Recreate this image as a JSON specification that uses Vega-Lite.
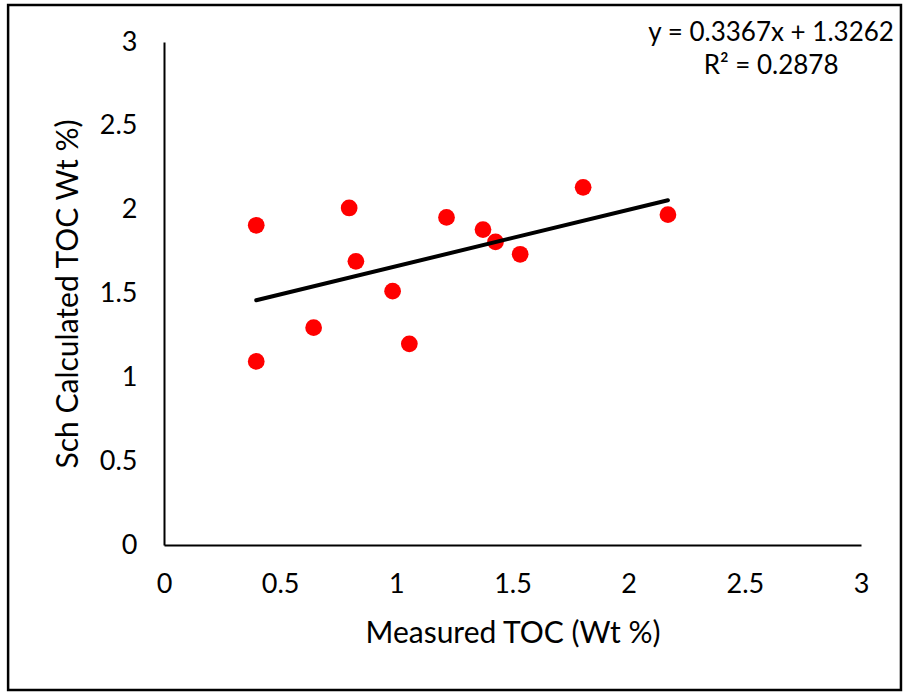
{
  "$schema": "https://vega.github.io/schema/vega-lite/v6.json",
  "autosize": {"type": "none"},
  "width": 697,
  "height": 503,
  "padding": {"left": 164, "top": 42, "right": 43, "bottom": 147},
  "background": "white",
  "config": {
    "view": {"stroke": null},
    "font": "Lato",
    "axis": {
      "grid": false,
      "ticks": false,
      "domainColor": "black",
      "domainWidth": 2,
      "labelColor": "black",
      "titleColor": "black",
      "labelFont": "Lato",
      "titleFont": "Lato",
      "labelFontSize": 27,
      "titleFontSize": 30,
      "labelFontWeight": "normal",
      "titleFontWeight": "normal",
      "format": ".1~f"
    }
  },
  "datasets": {
    "samples": [
      {"measured": 0.397, "calculated": 1.907},
      {"measured": 0.397, "calculated": 1.095},
      {"measured": 0.644, "calculated": 1.296},
      {"measured": 0.797, "calculated": 2.010},
      {"measured": 0.826, "calculated": 1.692},
      {"measured": 0.984, "calculated": 1.514},
      {"measured": 1.056, "calculated": 1.200},
      {"measured": 1.216, "calculated": 1.954},
      {"measured": 1.373, "calculated": 1.881},
      {"measured": 1.427, "calculated": 1.808},
      {"measured": 1.533, "calculated": 1.734},
      {"measured": 1.804, "calculated": 2.133},
      {"measured": 2.169, "calculated": 1.970}
    ],
    "trend": [
      {"measured": 0.397, "calculated": 1.4599},
      {"measured": 2.169, "calculated": 2.0565}
    ]
  },
  "layer": [
    {
      "data": {"values": [{}]},
      "mark": {"type": "rect", "fill": "transparent", "stroke": "black", "strokeWidth": 2.5, "clip": false},
      "encoding": {
        "x": {"datum": -0.671, "type": "quantitative", "scale": {"domain": [0, 3], "nice": false, "zero": false}},
        "x2": {"datum": 3.172},
        "y": {"datum": 3.221, "type": "quantitative", "scale": {"domain": [0, 3], "nice": false, "zero": false}},
        "y2": {"datum": -0.865}
      }
    },
    {
      "data": {"name": "samples"},
      "mark": {"type": "point", "filled": true, "shape": "circle", "size": 280, "color": "#FF0000", "opacity": 1},
      "encoding": {
        "x": {
          "field": "measured",
          "type": "quantitative",
          "scale": {"domain": [0, 3], "nice": false, "zero": false},
          "axis": {
            "title": "Measured TOC (Wt %)",
            "values": [0, 0.5, 1, 1.5, 2, 2.5, 3],
            "labelPadding": 47,
            "labelBaseline": "alphabetic",
            "labelFlush": false,
            "titleY": 97,
            "titleBaseline": "alphabetic"
          }
        },
        "y": {
          "field": "calculated",
          "type": "quantitative",
          "scale": {"domain": [0, 3], "nice": false, "zero": false},
          "axis": {
            "title": "Sch Calculated TOC Wt %)",
            "values": [0, 0.5, 1, 1.5, 2, 2.5, 3],
            "labelPadding": 27,
            "labelFlush": false,
            "titleAngle": -90,
            "titleX": -87,
            "titleY": 251.5,
            "titleAlign": "center",
            "titleBaseline": "alphabetic"
          }
        }
      }
    },
    {
      "data": {"name": "trend"},
      "mark": {"type": "line", "color": "black", "strokeWidth": 4, "strokeCap": "round"},
      "encoding": {
        "x": {"field": "measured", "type": "quantitative"},
        "y": {"field": "calculated", "type": "quantitative"}
      }
    },
    {
      "data": {"values": [{}]},
      "mark": {
        "type": "text",
        "text": ["y = 0.3367x + 1.3262", "R² = 0.2878"],
        "font": "Lato",
        "fontSize": 26,
        "color": "black",
        "align": "center",
        "baseline": "middle",
        "lineHeight": 33,
        "clip": false
      },
      "encoding": {
        "x": {"datum": 2.613, "type": "quantitative"},
        "y": {"datum": 3.056, "type": "quantitative"}
      }
    }
  ]
}
